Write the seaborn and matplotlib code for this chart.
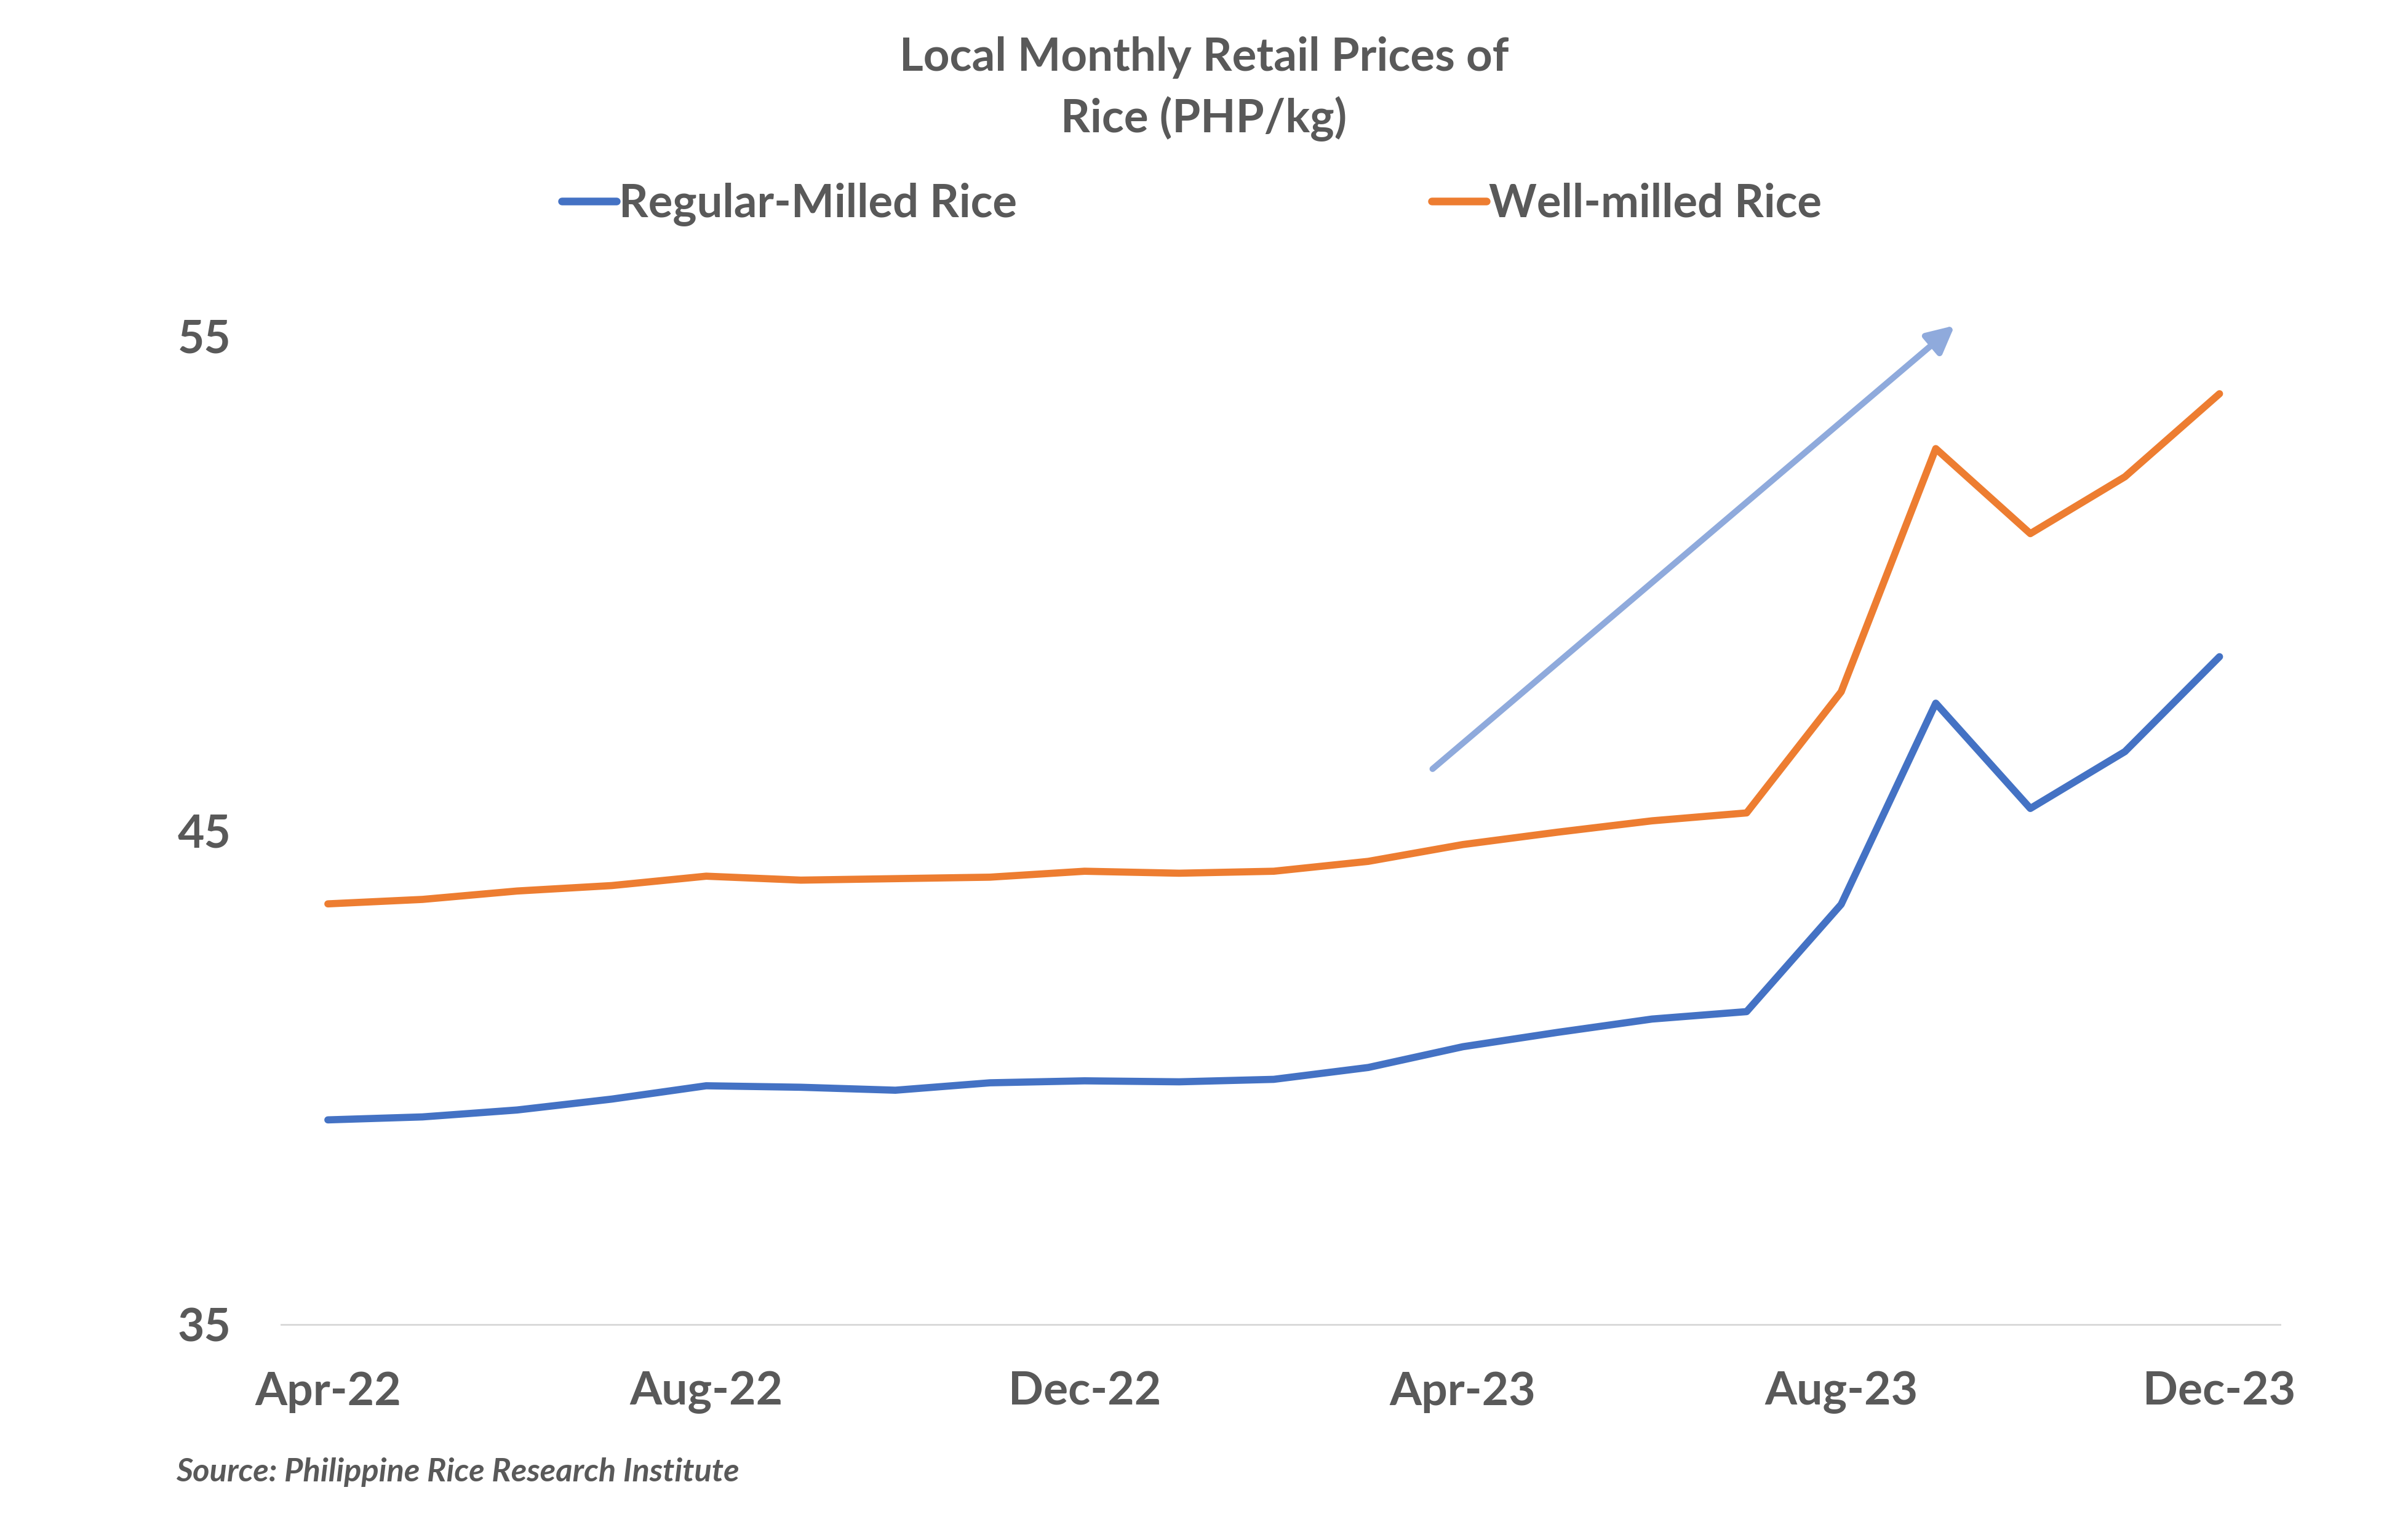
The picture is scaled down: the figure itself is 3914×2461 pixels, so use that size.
import numpy as np
import pandas as pd
import matplotlib
matplotlib.use("Agg")
import matplotlib.pyplot as plt
from matplotlib.lines import Line2D
import seaborn as sns

# ---------------- data ----------------
months = ["Apr-22", "May-22", "Jun-22", "Jul-22", "Aug-22", "Sep-22", "Oct-22",
          "Nov-22", "Dec-22", "Jan-23", "Feb-23", "Mar-23", "Apr-23", "May-23",
          "Jun-23", "Jul-23", "Aug-23", "Sep-23", "Oct-23", "Nov-23", "Dec-23"]
regular_milled = [39.14, 39.20, 39.34, 39.56, 39.83, 39.80, 39.74, 39.89, 39.93,
                  39.91, 39.96, 40.20, 40.62, 40.91, 41.18, 41.33, 43.50, 47.57,
                  45.44, 46.59, 48.51]
well_milled = [43.51, 43.60, 43.77, 43.88, 44.07, 43.99, 44.02, 44.05, 44.17,
               44.13, 44.17, 44.37, 44.71, 44.96, 45.19, 45.35, 47.80, 52.72,
               51.00, 52.15, 53.83]
series_names = ["Regular-Milled Rice", "Well-milled Rice"]
series_colors = ["#4472C4", "#ED7D31"]
x_tick_labels = ["Apr-22", "Aug-22", "Dec-22", "Apr-23", "Aug-23", "Dec-23"]
y_ticks = [35, 45, 55]
title_lines = ["Local Monthly Retail Prices of", "Rice (PHP/kg)"]
source_text = "Source: Philippine Rice Research Institute"
# trend arrow (start month position, start price) -> (end month position, end price)
arrow_start = (11.68, 46.24)
arrow_end = (17.20, 55.21)

# ---------------- styling ----------------
TEXT = "#595959"
sns.set_theme(style="white")
plt.rcParams["font.family"] = ["Lato", "DejaVu Sans"]

W, H, DPI = 3914, 2461, 300
fig = plt.figure(figsize=(W / DPI, H / DPI), dpi=DPI)
fig.patch.set_facecolor("white")

ax_left, ax_right = 457 / W, 3706 / W
ax_bottom, ax_top = 1 - 2153 / H, 1 - 546 / H
ax = fig.add_axes([ax_left, ax_bottom, ax_right - ax_left, ax_top - ax_bottom])

n = len(months)
df = pd.DataFrame({
    "pos": np.tile(np.arange(n), 2),
    "month": months * 2,
    "price": regular_milled + well_milled,
    "series": [series_names[0]] * n + [series_names[1]] * n,
})
palette = dict(zip(series_names, series_colors))

sns.lineplot(data=df, x="pos", y="price", hue="series", palette=palette,
             linewidth=2.8, legend=False, ax=ax, sort=False,
             solid_capstyle="round", solid_joinstyle="round")

ax.set_xlim(-0.494, 20.64)
ax.set_ylim(35, 55)
tick_pos = [months.index(m) for m in x_tick_labels]
ax.set_xticks(tick_pos)
ax.set_xticklabels(x_tick_labels)
ax.set_yticks(y_ticks)
ax.set_yticklabels([str(v) for v in y_ticks])
ax.set_xlabel("")
ax.set_ylabel("")
ax.grid(False)

for side in ["top", "right", "left"]:
    ax.spines[side].set_visible(False)
ax.spines["bottom"].set_color("#D9D9D9")
ax.spines["bottom"].set_linewidth(0.7)

ax.tick_params(axis="both", length=0, colors=TEXT, labelsize=18)
ax.tick_params(axis="x", pad=18)
ax.tick_params(axis="y", pad=19.5)
for lbl in ax.get_xticklabels() + ax.get_yticklabels():
    lbl.set_fontweight("bold")
    lbl.set_color(TEXT)

# trend arrow
ax.annotate("", xy=arrow_end, xytext=arrow_start,
            arrowprops=dict(arrowstyle="-|>", color="#8FAADC", lw=2.4,
                            mutation_scale=22, shrinkA=0, shrinkB=0),
            annotation_clip=False)

# title (two lines)
fig.text(0.5, 1 - 115 / H, title_lines[0], ha="center", va="baseline",
         fontsize=17.9, fontweight="bold", color=TEXT)
fig.text(0.5, 1 - 215 / H, title_lines[1], ha="center", va="baseline",
         fontsize=17.9, fontweight="bold", color=TEXT)

# legend
handles = [Line2D([0], [0], color=c, lw=3.0, solid_capstyle="round") for c in series_colors]
fig.legend(handles, series_names, loc="center",
           bbox_to_anchor=(1937 / W, 1 - 332 / H), ncol=2, frameon=False,
           prop={"family": ["Lato", "DejaVu Sans"], "weight": "bold", "size": 17.8},
           labelcolor=TEXT, handlelength=1.2, handletextpad=0.05,
           columnspacing=9.1)

# source
fig.text(286 / W, 1 - 2408 / H, source_text, ha="left", va="baseline",
         fontsize=12.6, fontweight="bold", fontstyle="italic", color=TEXT)

fig.savefig("out.png", dpi=DPI, facecolor="white")
